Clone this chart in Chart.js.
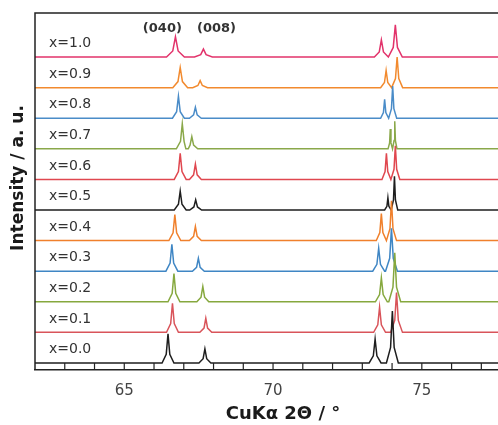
<!DOCTYPE html>
<html>
<head>
<meta charset="utf-8">
<script src="https://cdn.jsdelivr.net/npm/chart.js@4.4.0/dist/chart.umd.min.js"></script>
<style>
	html, body { margin: 0; padding: 0; background: #fff; }
	#wrap { width: 498px; height: 425px; }
</style>
</head>
<body>
<div id="wrap"><canvas id="xrd"></canvas></div>
<script>
// samples, bottom to top
var samples = ['x=0.0', 'x=0.1', 'x=0.2', 'x=0.3', 'x=0.4', 'x=0.5', 'x=0.6', 'x=0.7', 'x=0.8', 'x=0.9', 'x=1.0'];

// peak positions (2 theta, deg) and heights (a.u., 1 = spacing between patterns)
var pos040 = [66.47, 66.62, 66.67, 66.60, 66.70, 66.88, 66.88, 66.95, 66.82, 66.88, 66.72];
var h040   = [0.95, 0.95, 0.92, 0.88, 0.85, 0.62, 0.85, 0.82, 0.72, 0.66, 0.66];
var pos008 = [67.71, 67.74, 67.64, 67.49, 67.39, 67.40, 67.39, 67.27, 67.39, 67.55, 67.66];
var h008   = [0.46, 0.46, 0.50, 0.42, 0.46, 0.33, 0.50, 0.40, 0.36, 0.23, 0.26];
var posA   = [73.43, 73.58, 73.64, 73.55, 73.64, 73.86, 73.81, 73.94, 73.75, 73.80, 73.64];
var hA     = [0.78, 0.82, 0.78, 0.75, 0.88, 0.40, 0.85, 0.65, 0.62, 0.56, 0.56];
var posB   = [74.01, 74.15, 74.09, 73.98, 73.98, 74.08, 74.11, 74.09, 74.02, 74.17, 74.11];
var hB     = [1.70, 1.30, 1.60, 1.40, 1.30, 1.10, 1.10, 0.90, 1.05, 1.00, 1.05];
// peak half width at the base (deg)
var halfBase = [0.20, 0.20, 0.20, 0.20, 0.20, 0.20, 0.20, 0.20, 0.20, 0.25, 0.30];

var peakLabels = ['(040)', '(008)'];
var peakLabelPos = [66.28, 68.10];

var xMin = 62, xMax = 77.56;

var colors = ['#1e1e1e', '#d9545a', '#86a83e', '#3f86c4', '#f0802c',
	'#1e1e1e', '#e0474f', '#8aa84a', '#4a8cc8', '#f28a2e', '#e2336b'];

function peakPoints(pts, x0, h, w, off) {
	pts.push({ x: x0 - w, y: off });
	pts.push({ x: x0 - w * 0.3, y: off + h * 0.3 });
	pts.push({ x: x0, y: off + h });
	pts.push({ x: x0 + w * 0.3, y: off + h * 0.3 });
	pts.push({ x: x0 + w, y: off });
}

function buildTrace(i) {
	var off = i;
	var w = halfBase[i];
	// the two high angle peaks can sit close together
	var wAB = Math.min(w, (posB[i] - posA[i]) / 2);
	var pts = [{ x: xMin, y: off }];
	peakPoints(pts, pos040[i], h040[i], w, off);
	peakPoints(pts, pos008[i], h008[i], w, off);
	peakPoints(pts, posA[i], hA[i], wAB, off);
	peakPoints(pts, posB[i], hB[i], wAB, off);
	pts.push({ x: xMax, y: off });
	pts.sort(function (a, b) { return a.x - b.x; });
	return pts;
}

var datasets = samples.map(function (s, i) {
	return {
		label: s,
		data: buildTrace(i),
		showLine: true,
		borderColor: colors[i],
		borderWidth: 1.5,
		pointRadius: 0,
		tension: 0,
		fill: false
	};
});

var framePlugin = {
	id: 'frame',
	afterDatasetsDraw: function (chart) {
		var ctx = chart.ctx, a = chart.chartArea;
		var xs = chart.scales.x, ys = chart.scales.y;
		ctx.save();
		ctx.strokeStyle = '#222';
		ctx.lineWidth = 1.5;
		ctx.beginPath();
		ctx.moveTo(a.right + 2, a.top);
		ctx.lineTo(a.left, a.top);
		ctx.lineTo(a.left, a.bottom);
		ctx.stroke();
		// inward ticks
		ctx.lineWidth = 1.2;
		ctx.beginPath();
		xs.ticks.forEach(function (t) {
			var px = xs.getPixelForValue(t.value);
			if (px <= a.left + 1) return;
			ctx.moveTo(px, a.bottom);
			ctx.lineTo(px, a.bottom - 7);
		});
		ctx.stroke();

		// sample labels
		ctx.fillStyle = '#333';
		ctx.font = '14px "DejaVu Sans"';
		ctx.textBaseline = 'middle';
		ctx.textAlign = 'left';
		samples.forEach(function (s, i) {
			ctx.fillText(s, a.left + 14, ys.getPixelForValue(i + 0.44));
		});

		// peak labels
		ctx.font = 'bold 13px "DejaVu Sans"';
		ctx.textAlign = 'center';
		peakLabels.forEach(function (s, i) {
			ctx.fillText(s, xs.getPixelForValue(peakLabelPos[i]), ys.getPixelForValue(10.92));
		});

		// axis titles
		ctx.fillStyle = '#1a1a1a';
		ctx.font = 'bold 18px "DejaVu Sans"';
		ctx.fillText('CuK\u03b1 2\u0398 / \u00b0', 283, 414);
		ctx.translate(19, 178);
		ctx.rotate(-Math.PI / 2);
		ctx.font = 'bold 17px "DejaVu Sans"';
		ctx.fillText('Intensity / a. u.', 0, 0);
		ctx.restore();
	}
};

new Chart(document.getElementById('xrd'), {
	type: 'scatter',
	data: { datasets: datasets },
	plugins: [framePlugin],
	options: {
		responsive: true,
		maintainAspectRatio: false,
		animation: false,
		layout: { padding: { left: 35, top: 13, right: 0, bottom: 13 } },
		plugins: {
			legend: { display: false },
			tooltip: { enabled: false }
		},
		scales: {
			x: {
				type: 'linear',
				min: xMin,
				max: xMax,
				grid: { display: false, drawTicks: false },
				border: { display: true, color: '#222', width: 1.5 },
				ticks: {
					stepSize: 1,
					includeBounds: false,
					autoSkip: false,
					maxRotation: 0,
					padding: 12,
					color: '#444',
					font: { family: 'DejaVu Sans', size: 15 },
					callback: function (v) { return v % 5 === 0 ? String(v) : ''; }
				}
			},
			y: {
				display: false,
				min: -0.23,
				max: 11.44
			}
		}
	}
});
</script>
</body>
</html>
